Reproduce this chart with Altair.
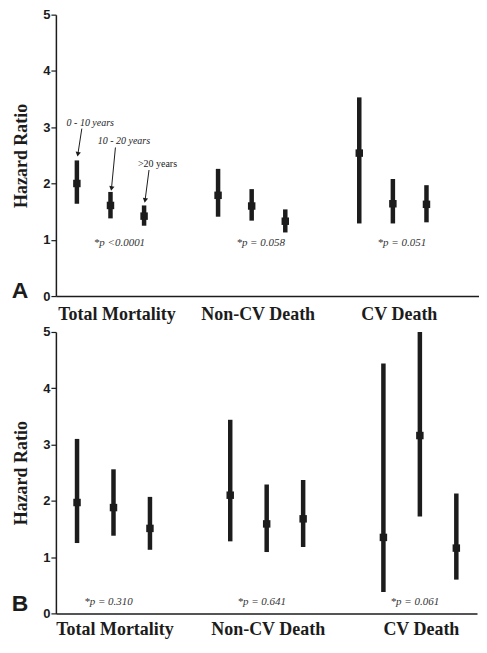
import json
import altair as alt
import pandas as pd

# ---------------- data ----------------
groups = ["Total Mortality", "Non-CV Death", "CV Death"]
subgroups = ["0 - 10 years", "10 - 20 years", ">20 years"]

# Panel A
a_hr = [2.00, 1.61, 1.42, 1.79, 1.60, 1.33, 2.54, 1.64, 1.63]
a_lo = [1.64, 1.38, 1.25, 1.41, 1.34, 1.13, 1.29, 1.29, 1.31]
a_hi = [2.41, 1.85, 1.61, 2.26, 1.90, 1.54, 3.53, 2.08, 1.97]
a_p = ["*p <0.0001", "*p = 0.058", "*p = 0.051"]

# Panel B
b_hr = [1.97, 1.88, 1.51, 2.10, 1.59, 1.68, 1.35, 3.16, 1.16]
b_lo = [1.25, 1.38, 1.13, 1.28, 1.09, 1.18, 0.38, 1.72, 0.60]
b_hi = [3.10, 2.56, 2.07, 3.44, 2.29, 2.37, 4.44, 5.00, 2.13]
b_p = ["*p = 0.310", "*p = 0.641", "*p = 0.061"]

# Annotation arrows (panel A, first group)
ann_text = ["0 - 10 years", "10 - 20 years", ">20 years"]
ann_italic = [True, True, False]
ann_tail = [2.975, 2.64, 2.24]
ann_tip = [2.52, 1.91, 1.70]

yticks = [0, 1, 2, 3, 4, 5]

# ---------------- style ----------------
SUB = 0.238
INK = "#1c1c1c"
SERIF = "Liberation Serif"
SANS = "Liberation Sans"


def frame(hr, lo, hi):
    rows = []
    for k, (h, l, u) in enumerate(zip(hr, lo, hi)):
        g, i = divmod(k, 3)
        rows.append(dict(group=groups[g], sub=subgroups[i],
                         pos=g + (i - 1) * SUB, hr=h, lo=l, hi=u))
    return pd.DataFrame(rows)


def panel(hr, lo, hi, pvals, p_y, p_dx, dmin, dmax, width, height, letter,
          letter_up, label_offset, label_pad, annotate=False):
    df = frame(hr, lo, hi)
    xscale = alt.Scale(domain=[dmin, dmax], nice=False, zero=False)
    yscale = alt.Scale(domain=[0, 5], nice=False)
    label_expr = json.dumps(groups) + "[datum.value]"
    xaxis = alt.Axis(values=[0, 1, 2], labelExpr=label_expr, ticks=False,
                     grid=False, labelFont=SERIF, labelFontWeight="bold",
                     labelFontSize=18, labelColor=INK, labelPadding=label_pad,
                     labelBaseline="top", labelOverlap=False,
                     labelOffset=label_offset,
                     domainColor=INK, domainWidth=1.5)
    yaxis = alt.Axis(values=yticks, format="d", grid=False, tickSize=5,
                     tickColor=INK, tickWidth=1.2, labelFont=SANS,
                     labelFontWeight="bold", labelFontSize=13,
                     labelColor=INK, labelPadding=1, domainColor=INK,
                     domainWidth=1.5, title="Hazard Ratio", titleFont=SERIF,
                     titleFontSize=18, titleFontWeight="bold",
                     titleColor=INK, titlePadding=12)

    base = alt.Chart(df)
    bars = base.mark_rule(strokeWidth=4.5, color=INK).encode(
        x=alt.X("pos:Q", scale=xscale, axis=xaxis, title=None),
        y=alt.Y("lo:Q", scale=yscale, axis=yaxis),
        y2="hi:Q",
    )
    pts = base.mark_square(size=56, color=INK, opacity=1).encode(
        x="pos:Q", y="hr:Q")

    pdf = pd.DataFrame({"pos": [0, 1, 2], "p": pvals, "py": [p_y] * 3})
    ptext = alt.Chart(pdf).mark_text(
        font=SERIF, fontStyle="italic", fontSize=11, color="#333333",
        align="center", baseline="middle", dx=p_dx).encode(
        x="pos:Q", y="py:Q", text="p:N")

    ldf = pd.DataFrame({"letter": [letter]})
    ltext = alt.Chart(ldf).mark_text(
        font=SANS, fontWeight="bold", fontSize=23, color=INK,
        align="center", baseline="middle").encode(
        x=alt.value(-36), y=alt.value(height - letter_up), text="letter:N")

    layers = [bars, pts, ptext, ltext]

    if annotate:
        rows = []
        for i, (t, it, tail, tip) in enumerate(
                zip(ann_text, ann_italic, ann_tail, ann_tip)):
            px = (i - 1) * SUB
            rows.append(dict(label=t, italic=it, tx=px + 0.035, ty=tail,
                             hx=px + 0.007, hy=tip, lx=px + 0.095))
        adf = pd.DataFrame(rows)
        abase = alt.Chart(adf)
        arrows = abase.mark_rule(strokeWidth=1, color=INK).encode(
            x="tx:Q", y="ty:Q", x2="hx:Q", y2="hy:Q")
        heads = abase.mark_point(shape="triangle-down", filled=True,
                                 size=28, angle=10, color=INK,
                                 opacity=1).encode(x="hx:Q", y="hy:Q")
        lab_it = abase.transform_filter("datum.italic").mark_text(
            font=SERIF, fontStyle="italic", fontSize=10, color=INK,
            align="center", baseline="alphabetic", dy=-3).encode(
            x="lx:Q", y="ty:Q", text="label:N")
        lab_up = abase.transform_filter("!datum.italic").mark_text(
            font=SERIF, fontSize=10, color=INK,
            align="center", baseline="alphabetic", dy=-3).encode(
            x="lx:Q", y="ty:Q", text="label:N")
        layers += [arrows, heads, lab_it, lab_up]

    return alt.layer(*layers).properties(width=width, height=height)


panel_a = panel(a_hr, a_lo, a_hi, a_p, 0.95, 9, -0.3866, 2.610, 424, 282,
                "A", 5, 6, 9, annotate=True)
panel_b = panel(b_hr, b_lo, b_hi, b_p, 0.21, -5, -0.376, 2.373, 422, 282,
                "B", 9, 1, 7)

chart = alt.vconcat(panel_a, panel_b, spacing=3).configure_view(
    strokeWidth=0
).configure_axisX(
    labelFont=SERIF, labelFontWeight="bold", labelFontSize=18
).configure_axisY(
    labelFont=SANS, labelFontWeight="bold", labelFontSize=13,
    titleFont=SERIF, titleFontWeight="bold", titleFontSize=18
).properties(
    padding={"left": 3, "top": 0, "right": 0, "bottom": 0},
    background="white",
)

chart.save("out.html", embed_options={"renderer": "svg", "actions": False})
